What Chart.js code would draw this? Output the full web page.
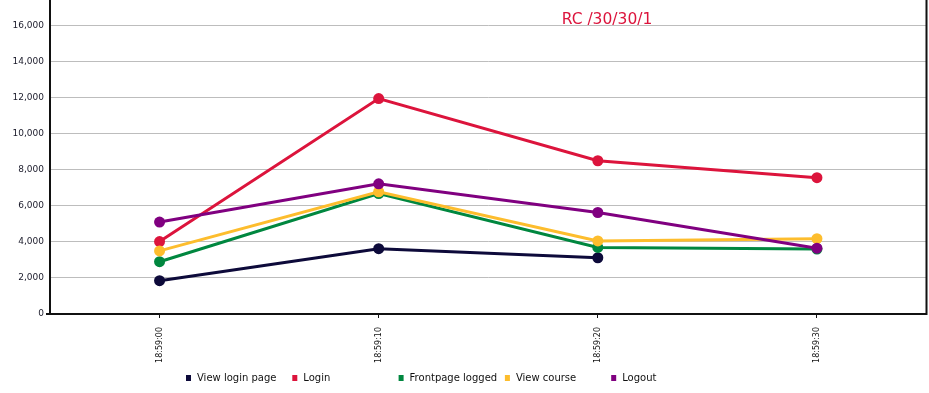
<!DOCTYPE html>
<html lang="en">
<head>
  <meta charset="UTF-8">
  <title>RC /30/30/1</title>
  <script src="https://cdn.jsdelivr.net/npm/chart.js"></script>
  <style>
    body { margin: 0; background: #fff; overflow: hidden; }
    .chart-box { width: 932px; height: 393px; position: relative; }
  </style>
</head>
<body>
  <div class="chart-box"><canvas id="chart"></canvas></div>
  <script>
    const times = ['18:59:00', '18:59:10', '18:59:20', '18:59:30'];
    const seriesNames = ['View login page', 'Login', 'Frontpage logged', 'View course', 'Logout'];
    const viewLoginPage = [1850, 3620, 3120, null];
    const login = [4020, 11950, 8500, 7560];
    const frontpageLogged = [2900, 6680, 3690, 3600];
    const viewCourse = [3500, 6780, 4050, 4180];
    const logout = [5100, 7220, 5630, 3650];
    const yTicks = [0, 2000, 4000, 6000, 8000, 10000, 12000, 14000, 16000];
    const colors = ['#0d0a3a', '#dc143c', '#00873f', '#fdbd2d', '#800080'];
    const chartTitle = 'RC /30/30/1';

    const allValues = [viewLoginPage, login, frontpageLogged, viewCourse, logout];

    // title inside the plot, side frame lines running to the top edge, fixed-slot legend
    const extras = {
      id: 'extras',
      afterDraw(chart) {
        const ctx = chart.ctx;
        const area = chart.chartArea;
        ctx.save();
        ctx.strokeStyle = '#111';
        ctx.lineWidth = 2;
        ctx.beginPath();
        ctx.moveTo(area.right, 0);
        ctx.lineTo(area.right, area.bottom + 1);
        ctx.moveTo(area.left, 0);
        ctx.lineTo(area.left, area.bottom + 1);
        ctx.moveTo(area.left - 4, area.bottom);
        ctx.lineTo(area.left, area.bottom);
        ctx.stroke();

        ctx.fillStyle = '#dc143c';
        ctx.font = '15.5px "DejaVu Sans"';
        ctx.textAlign = 'center';
        ctx.textBaseline = 'middle';
        ctx.fillText(chartTitle, 607, 20);

        ctx.font = '10px "DejaVu Sans"';
        ctx.textAlign = 'left';
        seriesNames.forEach((name, i) => {
          const x = 186 + i * 106.3;
          ctx.fillStyle = colors[i];
          ctx.fillRect(x, 375, 5, 6);
          ctx.fillStyle = '#111';
          ctx.fillText(name, x + 11, 378.5);
        });
        ctx.restore();
      }
    };

    new Chart(document.getElementById('chart'), {
      type: 'line',
      data: {
        labels: times,
        datasets: seriesNames.map((name, i) => ({
          label: name,
          data: allValues[i],
          borderColor: colors[i],
          backgroundColor: colors[i],
          pointBackgroundColor: colors[i],
          pointBorderWidth: 0,
          borderWidth: 3,
          pointRadius: 5.5,
          pointHoverRadius: 5.5,
          tension: 0,
          order: seriesNames.length - i
        }))
      },
      options: {
        responsive: true,
        maintainAspectRatio: false,
        animation: false,
        layout: { padding: 0 },
        plugins: {
          legend: { display: false },
          tooltip: { enabled: false },
          title: { display: false }
        },
        scales: {
          x: {
            offset: true,
            afterFit(scale) {
              scale.height = 79;
              scale.paddingRight = 0;
              scale.paddingLeft = 0;
            },
            grid: { drawOnChartArea: false, drawTicks: true, tickLength: 4, tickColor: '#111' },
            border: { color: '#111', width: 2 },
            ticks: {
              minRotation: 90,
              maxRotation: 90,
              padding: 9,
              color: '#111',
              font: { family: 'DejaVu Sans', size: 8 }
            }
          },
          y: {
            min: 0,
            max: 17110,
            afterFit(scale) {
              scale.width = 50;
              scale.paddingTop = 0;
              scale.paddingBottom = 0;
            },
            afterBuildTicks(scale) {
              scale.ticks = yTicks.map(v => ({ value: v }));
            },
            grid: { color: '#bdbdbd', lineWidth: 1, tickLength: 4, tickColor: 'rgba(0,0,0,0)' },
            border: { display: false },
            ticks: {
              padding: 2,
              color: '#1a1a2a',
              font: { family: 'DejaVu Sans', size: 9 },
              callback: v => v.toLocaleString('en-US')
            }
          }
        }
      },
      plugins: [extras]
    });
  </script>
</body>
</html>
